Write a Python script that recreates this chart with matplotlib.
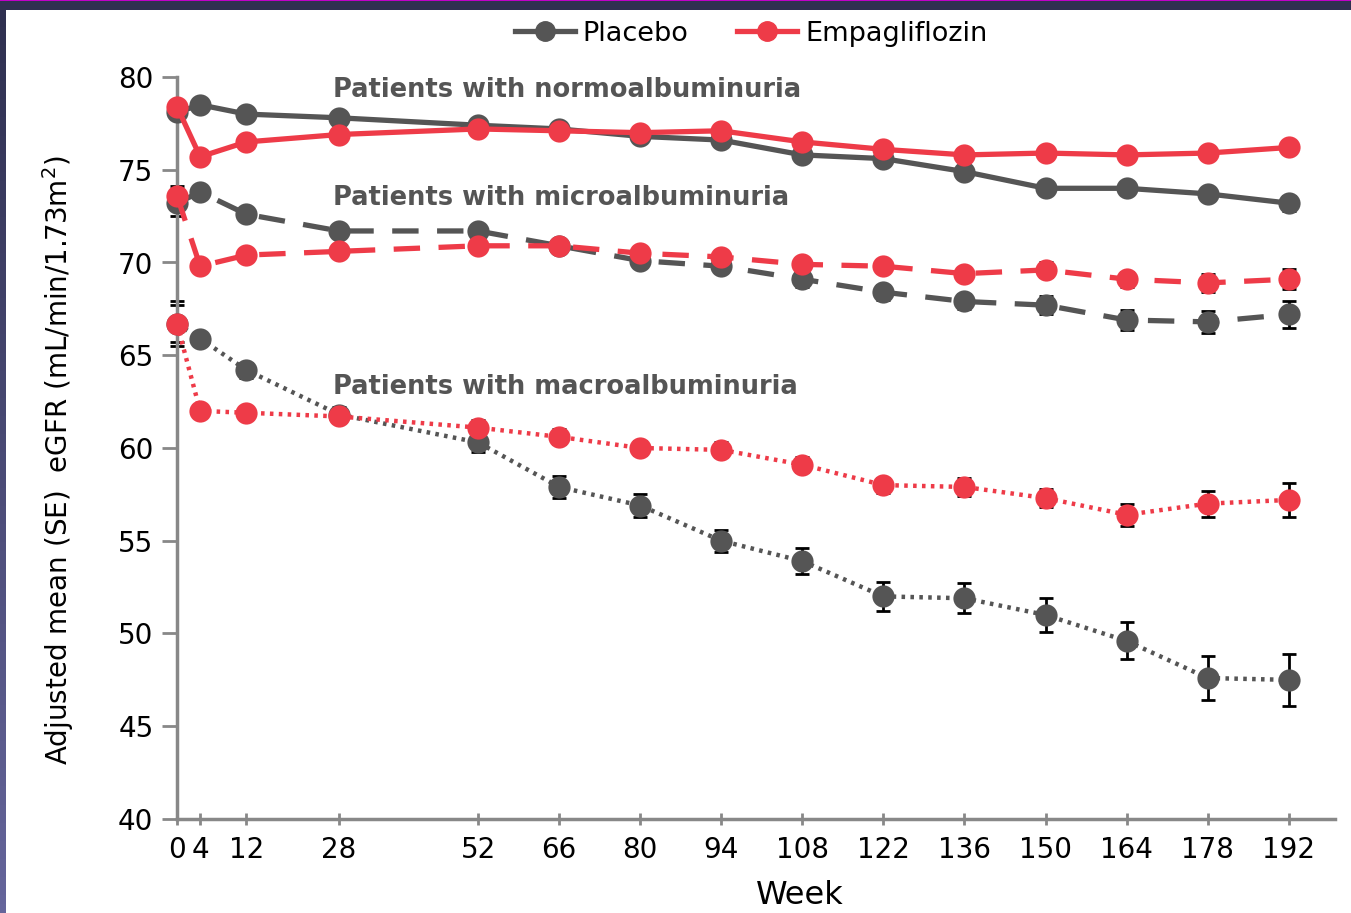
import numpy as np
import matplotlib.pyplot as plt
from matplotlib.lines import Line2D
from matplotlib.patches import Rectangle

# data
weeks = [0, 4, 12, 28, 52, 66, 80, 94, 108, 122, 136, 150, 164, 178, 192]

normo_placebo = [78.1, 78.5, 78.0, 77.8, 77.4, 77.2, 76.8, 76.6, 75.8, 75.6, 74.9, 74.0, 74.0, 73.7, 73.2]
normo_empa = [78.4, 75.7, 76.5, 76.9, 77.2, 77.1, 77.0, 77.1, 76.5, 76.1, 75.8, 75.9, 75.8, 75.9, 76.2]
normo_placebo_se = [0.3, 0.2, 0.2, 0.2, 0.2, 0.2, 0.2, 0.2, 0.2, 0.2, 0.2, 0.3, 0.3, 0.3, 0.4]
normo_empa_se = [0.3, 0.2, 0.2, 0.2, 0.2, 0.2, 0.2, 0.2, 0.2, 0.2, 0.2, 0.2, 0.2, 0.3, 0.3]

micro_placebo = [73.2, 73.8, 72.6, 71.7, 71.7, 70.9, 70.1, 69.8, 69.1, 68.4, 67.9, 67.7, 66.9, 66.8, 67.2]
micro_empa = [73.6, 69.8, 70.4, 70.6, 70.9, 70.9, 70.5, 70.3, 69.9, 69.8, 69.4, 69.6, 69.1, 68.9, 69.1]
micro_placebo_se = [0.7, 0.3, 0.3, 0.3, 0.3, 0.3, 0.3, 0.3, 0.4, 0.4, 0.4, 0.5, 0.55, 0.6, 0.75]
micro_empa_se = [0.5, 0.2, 0.2, 0.2, 0.2, 0.2, 0.2, 0.3, 0.3, 0.3, 0.3, 0.4, 0.4, 0.5, 0.55]

macro_placebo = [66.7, 65.9, 64.2, 61.8, 60.3, 57.9, 56.9, 55.0, 53.9, 52.0, 51.9, 51.0, 49.6, 47.6, 47.5]
macro_empa = [66.7, 62.0, 61.9, 61.7, 61.1, 60.6, 60.0, 59.9, 59.1, 58.0, 57.9, 57.3, 56.4, 57.0, 57.2]
macro_placebo_se = [1.2, 0.3, 0.4, 0.4, 0.5, 0.6, 0.6, 0.6, 0.7, 0.8, 0.8, 0.9, 1.0, 1.2, 1.4]
macro_empa_se = [1.0, 0.3, 0.3, 0.3, 0.4, 0.4, 0.4, 0.4, 0.4, 0.4, 0.5, 0.5, 0.6, 0.7, 0.9]

xticks = [0, 4, 12, 28, 52, 66, 80, 94, 108, 122, 136, 150, 164, 178, 192]
yticks = [40, 45, 50, 55, 60, 65, 70, 75, 80]

gray = '#555555'
red = '#ee3b48'

fig = plt.figure(figsize=(13.51, 9.13), dpi=100)

# slide frame: dark band on top, purple gradient band on the left
fig.patches.append(Rectangle((0, 1 - 10 / 913), 1, 10 / 913, transform=fig.transFigure,
                             facecolor='#2f3050', edgecolor='none', zorder=0))
fig.patches.append(Rectangle((0, 1 - 1.2 / 913), 1, 1.2 / 913, transform=fig.transFigure,
                             facecolor='#c000c8', edgecolor='none', zorder=1))
band = fig.add_axes([0, 0, 6 / 1351, 1 - 10 / 913])
band.imshow(np.linspace(0, 1, 100).reshape(-1, 1), aspect='auto',
            cmap=plt.matplotlib.colors.LinearSegmentedColormap.from_list('b', ['#2f3050', '#65659b']))
band.axis('off')

ax = fig.add_axes([177 / 1351, (913 - 819) / 913, (1335 - 177) / 1351, (819 - 77) / 913])

groups = [
    (normo_placebo, normo_placebo_se, normo_empa, normo_empa_se, '-', 3.8),
    (micro_placebo, micro_placebo_se, micro_empa, micro_empa_se, (0, (5, 3.5)), 3.8),
    (macro_placebo, macro_placebo_se, macro_empa, macro_empa_se, (0, (0.8, 1.2)), 3.2),
]

for pl, pl_se, em, em_se, ls, lw in groups:
    for vals, se, col in [(pl, pl_se, gray), (em, em_se, red)]:
        ax.errorbar(weeks, vals, yerr=se, fmt='none', ecolor='black', elinewidth=2,
                    capsize=5, capthick=2, zorder=2, clip_on=False)
        ax.plot(weeks, vals, color=col, linestyle=ls, linewidth=lw, marker='o',
                markersize=16, markeredgewidth=0, zorder=3, clip_on=False)

ax.set_xlim(0, 200)
ax.set_ylim(40, 80)
ax.set_xticks(xticks)
ax.set_yticks(yticks)
ax.tick_params(axis='y', direction='out', length=11, width=2, color='#888888',
               labelsize=20, pad=6)
ax.tick_params(axis='x', direction='inout', length=9, width=2, color='#888888',
               labelsize=20, pad=8)
for s in ['top', 'right']:
    ax.spines[s].set_visible(False)
for s in ['left', 'bottom']:
    ax.spines[s].set_color('#888888')
    ax.spines[s].set_linewidth(2.5)

ax.set_xlabel('Week', fontsize=23)
ax.xaxis.set_label_coords((800 - 177) / 1158, -(880 - 819) / 742)
ax.set_ylabel('Adjusted mean (SE)  eGFR (mL/min/1.73m$^2$)', fontsize=20)
ax.yaxis.set_label_coords(-(177 - 76) / 1158, (819 - 460) / 742)

ax.text(26.9, 79.3, 'Patients with normoalbuminuria', color=gray, fontsize=18.5,
        fontweight='bold', va='center')
ax.text(26.9, 73.5, 'Patients with microalbuminuria', color=gray, fontsize=18.5,
        fontweight='bold', va='center')
ax.text(26.9, 63.3, 'Patients with macroalbuminuria', color=gray, fontsize=18.5,
        fontweight='bold', va='center')

handles = [Line2D([], [], color=gray, linewidth=3.8, marker='o', markersize=14),
           Line2D([], [], color=red, linewidth=3.8, marker='o', markersize=14)]
fig.legend(handles, ['Placebo', 'Empagliflozin'], loc='center', bbox_to_anchor=(0.556, 0.963),
           ncol=2, frameon=False, fontsize=19.5, handlelength=2.2, handletextpad=0.3,
           columnspacing=1.8)

fig.savefig('out.png', dpi=100)
